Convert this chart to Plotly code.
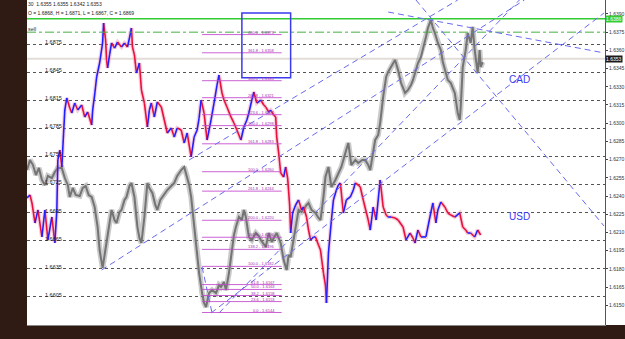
import plotly.graph_objects as go

# ---------------- data ----------------
# main symbol (CAD overlay, gray) : bar index and close price (right scale)
cad_bars = [0, 3, 6, 9, 12, 15, 18, 21, 25, 28,
            31, 35, 38, 41, 43, 46, 49, 53, 56, 59,
            62, 65, 68, 71, 73, 75, 76, 78, 80, 83,
            85, 88, 90, 93, 95, 98, 100, 103, 105, 108,
            111, 113, 115, 118, 121, 123, 126, 129, 131, 134,
            136, 139, 141, 145, 148, 151, 155, 158, 161, 163,
            165, 168, 171, 173, 176, 178, 180, 183, 186, 190,
            193, 195, 198, 200, 203, 206, 208, 210, 213, 216,
            218, 220, 223, 226, 230, 233, 235, 238, 240, 243,
            246, 248, 251, 255, 258, 261, 263, 265, 268, 270,
            273, 276, 278, 281, 283, 286, 290, 293, 295, 298,
            300, 303, 306, 310, 313, 316, 320, 323, 326, 330,
            333, 337, 340, 343, 345, 348, 350, 353, 355, 358,
            361, 363, 366, 370, 373, 376, 378, 380, 383, 386,
            388, 391, 393, 396, 398, 401, 403, 405, 406, 408,
            410, 413, 416, 418, 420, 423, 426, 428, 430, 433,
            435, 436, 438, 441, 443, 446, 448, 450, 453, 455,
            456, 458]
cad_close = [1.62614, 1.62697, 1.62655, 1.62573, 1.62631, 1.62532, 1.62491, 1.62565, 1.62548, 1.62598,
             1.62631, 1.62631, 1.62548, 1.62491, 1.62392, 1.62466, 1.62408, 1.62400, 1.62466, 1.62482,
             1.62408, 1.62392, 1.62309, 1.62144, 1.61955, 1.61856, 1.61807, 1.61914, 1.62013, 1.62161,
             1.62285, 1.62202, 1.62177, 1.62268, 1.62285, 1.62367, 1.62392, 1.62482, 1.62507, 1.62392,
             1.62144, 1.62054, 1.62013, 1.62227, 1.62507, 1.62466, 1.62425, 1.62326, 1.62285, 1.62367,
             1.62392, 1.62433, 1.62449, 1.62482, 1.62507, 1.62565, 1.62614, 1.62639, 1.62557, 1.62491,
             1.62392, 1.62144, 1.61897, 1.61765, 1.61600, 1.61518, 1.61485, 1.61600, 1.61625, 1.61600,
             1.61666, 1.61650, 1.61691, 1.61625, 1.61765, 1.61980, 1.62078, 1.62144, 1.62227, 1.62202,
             1.62285, 1.62227, 1.62062, 1.62037, 1.62095, 1.62070, 1.62037, 1.62004, 1.61980, 1.62095,
             1.62021, 1.62054, 1.62095, 1.62013, 1.61872, 1.61790, 1.61914, 1.61897, 1.62037, 1.62161,
             1.62285, 1.62268, 1.62285, 1.62326, 1.62342, 1.62285, 1.62260, 1.62219, 1.62202, 1.62392,
             1.62557, 1.62639, 1.62474, 1.62532, 1.62590, 1.62639, 1.62754, 1.62837, 1.62655, 1.62697,
             1.62672, 1.62697, 1.62697, 1.62655, 1.62614, 1.62754, 1.62862, 1.62903, 1.63002, 1.63216,
             1.63381, 1.63422, 1.63463, 1.63521, 1.63438, 1.63331, 1.63290, 1.63249, 1.63274, 1.63315,
             1.63356, 1.63438, 1.63496, 1.63546, 1.63603, 1.63710, 1.63785, 1.63826, 1.63851, 1.63785,
             1.63743, 1.63661, 1.63603, 1.63504, 1.63438, 1.63356, 1.63331, 1.63290, 1.63249, 1.63084,
             1.63026, 1.63134, 1.63463, 1.63603, 1.63743, 1.63661, 1.63793, 1.63603, 1.63414, 1.63603,
             1.63463, 1.63504]

# overlay symbol (USD, red/blue) : bar index and close price (left scale)
usd_bars = [0, 3, 5, 8, 11, 15, 18, 21, 25, 28,
            30, 31, 33, 35, 38, 40, 43, 45, 48, 51,
            55, 58, 61, 65, 66, 68, 70, 73, 76, 77,
            79, 80, 81, 83, 85, 88, 91, 95, 98, 101,
            103, 105, 106, 108, 110, 113, 115, 118, 121, 123,
            125, 128, 131, 135, 138, 141, 145, 148, 151, 155,
            158, 161, 165, 168, 171, 173, 175, 178, 181, 185,
            188, 191, 193, 196, 198, 201, 205, 208, 211, 215,
            218, 221, 223, 226, 228, 231, 235, 238, 240, 243,
            245, 248, 250, 251, 253, 255, 258, 260, 262, 264,
            265, 267, 270, 273, 276, 278, 281, 283, 285, 288,
            290, 293, 295, 298, 300, 301, 303, 306, 308, 311,
            313, 315, 318, 321, 325, 328, 330, 333, 335, 338,
            341, 343, 345, 348, 351, 353, 355, 358, 361, 363,
            366, 370, 373, 378, 381, 385, 388, 390, 393, 396,
            401, 405, 408, 411, 413, 416, 420, 423, 426, 430,
            435, 438, 441, 443, 446, 450, 453, 456]
usd_close = [1.67106, 1.67138, 1.67053, 1.66839, 1.66978, 1.66690, 1.66978, 1.66658, 1.66903, 1.66626,
             1.66978, 1.67512, 1.67618, 1.67437, 1.68045, 1.68174, 1.68067, 1.68013, 1.68120, 1.68045,
             1.68099, 1.67971, 1.68024, 1.67885, 1.68045, 1.68206, 1.68398, 1.68547, 1.68761, 1.68974,
             1.68793, 1.68579, 1.68494, 1.68633, 1.68761, 1.68707, 1.68771, 1.68718, 1.68761, 1.68718,
             1.68814, 1.68921, 1.68718, 1.68633, 1.68440, 1.68547, 1.68259, 1.68120, 1.67864, 1.68045,
             1.68120, 1.67971, 1.68131, 1.68077, 1.67939, 1.67800, 1.67853, 1.67757, 1.67853, 1.67832,
             1.67693, 1.67800, 1.67544, 1.67757, 1.67832, 1.67960, 1.68152, 1.68013, 1.67725, 1.67939,
             1.68120, 1.68312, 1.68419, 1.68227, 1.68152, 1.68077, 1.67971, 1.67907, 1.67832, 1.67725,
             1.67864, 1.67939, 1.68013, 1.68152, 1.68238, 1.68120, 1.68152, 1.68099, 1.68077, 1.68024,
             1.68045, 1.67992, 1.67971, 1.67757, 1.67586, 1.67373, 1.67330, 1.67437, 1.67319, 1.67031,
             1.66732, 1.66946, 1.67031, 1.67085, 1.66978, 1.67010, 1.66903, 1.66764, 1.66658, 1.66690,
             1.66690, 1.66604, 1.66551, 1.66305, 1.66177, 1.65985, 1.66519, 1.66871, 1.67085, 1.67191,
             1.67245, 1.67266, 1.66946, 1.67085, 1.67117, 1.67191, 1.67266, 1.67245, 1.67223, 1.67085,
             1.66956, 1.66871, 1.66764, 1.67010, 1.66871, 1.67085, 1.67298, 1.67010, 1.66924, 1.66903,
             1.66903, 1.66892, 1.66871, 1.66796, 1.66658, 1.66732, 1.66679, 1.66626, 1.66764, 1.66690,
             1.66690, 1.66903, 1.67053, 1.66839, 1.66978, 1.67063, 1.67010, 1.66946, 1.66924, 1.66903,
             1.66946, 1.66796, 1.66764, 1.66732, 1.66732, 1.66690, 1.66764, 1.66711]

# axis ticks
cad_ticks = [1.6150, 1.6165, 1.6180, 1.6195, 1.6210, 1.6225, 1.6240, 1.6255, 1.6270,
             1.6285, 1.6300, 1.6315, 1.6330, 1.6345, 1.6360, 1.6375, 1.6390]
usd_ticks = [1.6605, 1.6635, 1.6665, 1.6695, 1.6725, 1.6755, 1.6785, 1.6815, 1.6845, 1.6875]

# header texts
header_main = "30  1.6355 1.6355 1.6342 1.6353"
header_overlay = "O = 1.6868, H = 1.6871, L = 1.6867, C = 1.6869"

# horizontal price levels
level_green = 1.6386
level_sell = 1.6375
level_last = 1.6353

# fibonacci expansions (level %, price)
fib_a_levels = [100.0, 161.8, 200.0, 223.6, 261.8, 300.0, 361.8, 400.0]
fib_a_prices = [1.6260, 1.6283, 1.6298, 1.6307, 1.6321, 1.6335, 1.6358, 1.6373]
fib_b_levels = [0.0, 23.6, 38.2, 50.0, 61.8, 100.0, 138.2, 161.8, 200.0, 261.8]
fib_b_prices = [1.6144, 1.6153, 1.6158, 1.6163, 1.6167, 1.6182, 1.6196, 1.6206, 1.6220, 1.6244]
fib_bar_start = 176
fib_bar_end = 252

# trend lines (bar, price) -> (bar, price)
trend_x0 = [75, 163, 185, 193, 363, 391, 176]
trend_p0 = [1.61790, 1.62697, 1.61436, 1.61436, 1.63916, 1.64015, 1.61815]
trend_x1 = [500, 433, 580, 495, 580, 580, 186]
trend_p1 = [1.64015, 1.64015, 1.63908, 1.64015, 1.63579, 1.62153, 1.61436]

# rectangle (bar range, price range)
rect_bars = [216, 265]
rect_prices = [1.63374, 1.63908]

# ---------------- figure ----------------
FONT = "Liberation Sans"
fig = go.Figure()

fig.add_trace(go.Scatter(x=cad_bars, y=cad_close, mode="lines", yaxis="y",
                         line=dict(color="rgba(140,140,140,0.45)", width=5.5),
                         hoverinfo="skip", showlegend=False))
fig.add_trace(go.Scatter(x=cad_bars, y=cad_close, mode="lines", yaxis="y",
                         line=dict(color="#747474", width=2),
                         hoverinfo="skip", showlegend=False))

fig.add_trace(go.Scatter(x=usd_bars, y=usd_close, mode="lines", yaxis="y2",
                         line=dict(color="rgba(235,120,160,0.35)", width=4),
                         hoverinfo="skip", showlegend=False))
up_x, up_y, dn_x, dn_y = [], [], [], []
for i in range(len(usd_bars) - 1):
    sx = [usd_bars[i], usd_bars[i + 1], None]
    sy = [usd_close[i], usd_close[i + 1], None]
    if usd_close[i + 1] >= usd_close[i]:
        up_x += sx; up_y += sy
    else:
        dn_x += sx; dn_y += sy
fig.add_trace(go.Scatter(x=dn_x, y=dn_y, mode="lines", yaxis="y2",
                         line=dict(color="#e8103c", width=1.6),
                         hoverinfo="skip", showlegend=False))
fig.add_trace(go.Scatter(x=up_x, y=up_y, mode="lines", yaxis="y2",
                         line=dict(color="#2020ff", width=1.6),
                         hoverinfo="skip", showlegend=False))

shapes = []
# white strip behind right price scale
shapes.append(dict(type="rect", xref="paper", yref="paper", x0=1, x1=1.05, y0=0, y1=1,
                   fillcolor="white", line=dict(width=0), layer="below"))
# last price line
shapes.append(dict(type="line", xref="x", yref="y", x0=0, x1=581, y0=level_last, y1=level_last,
                   line=dict(color="#e2ddd6", width=2), layer="below"))
# green levels
shapes.append(dict(type="line", xref="x", yref="y", x0=0, x1=581, y0=level_green, y1=level_green,
                   line=dict(color="#33cc33", width=1.5), layer="above"))
shapes.append(dict(type="line", xref="x", yref="y", x0=0, x1=581, y0=level_sell, y1=level_sell,
                   line=dict(color="#44b044", width=1, dash="dashdot"), layer="above"))
# fib lines
for p in fib_a_prices + fib_b_prices:
    shapes.append(dict(type="line", xref="x", yref="y", x0=fib_bar_start, x1=fib_bar_end + 4,
                       y0=p, y1=p, line=dict(color="rgba(195,70,205,0.85)", width=1), layer="above"))
# trend lines
for x0, p0, x1, p1 in zip(trend_x0, trend_p0, trend_x1, trend_p1):
    shapes.append(dict(type="line", xref="x", yref="y", x0=x0, y0=p0, x1=x1, y1=p1,
                       line=dict(color="#6a6af0", width=1, dash="6px,4px"), layer="above"))
# rectangle
shapes.append(dict(type="rect", xref="x", yref="y", x0=rect_bars[0], x1=rect_bars[1],
                   y0=rect_prices[0], y1=rect_prices[1],
                   line=dict(color="#3a3aee", width=1.5), fillcolor="rgba(0,0,0,0)", layer="above"))

annotations = []
annotations.append(dict(xref="paper", yref="paper", x=0, y=1, xanchor="left", yanchor="top",
                        text=header_main, showarrow=False, yshift=0, borderpad=0,
                        font=dict(size=5, color="#222", family=FONT)))
annotations.append(dict(xref="paper", yref="paper", x=0, y=1, xanchor="left", yanchor="top",
                        text=header_overlay, showarrow=False, yshift=-9, borderpad=0,
                        font=dict(size=5, color="#222", family=FONT)))
annotations.append(dict(xref="x", yref="y", x=0, y=level_sell, xanchor="left", yanchor="bottom",
                        text="sell", showarrow=False, yshift=-1, borderpad=0,
                        font=dict(size=5.5, color="#333", family=FONT)))
for lv, p in list(zip(fib_a_levels, fib_a_prices)) + list(zip(fib_b_levels, fib_b_prices)):
    annotations.append(dict(xref="x", yref="y", x=fib_bar_end - 2, y=p, xanchor="right",
                            yanchor="bottom", yshift=-1, showarrow=False, borderpad=0,
                            text=f"{lv:.1f} - {p:.4f}",
                            font=dict(size=4, color="#a030b0", family=FONT)))
annotations.append(dict(xref="x", yref="y", x=495, y=1.63356, text="CAD", showarrow=False,
                        font=dict(size=10, color="#3a3af0", family=FONT)))
annotations.append(dict(xref="x", yref="y", x=495, y=1.62235, text="USD", showarrow=False,
                        font=dict(size=10, color="#3a3af0", family=FONT)))
annotations.append(dict(xref="paper", yref="y", x=1, y=level_green, xanchor="left",
                        text=f"{level_green:.4f}", showarrow=False, bgcolor="#33cc33",
                        borderpad=0, font=dict(size=5, color="white", family=FONT)))
annotations.append(dict(xref="paper", yref="y", x=1, y=level_last, xanchor="left",
                        text=f"{level_last:.4f}", showarrow=False, bgcolor="#1a1a1a",
                        borderpad=0, font=dict(size=5, color="white", family=FONT)))

fig.update_layout(
    width=625, height=339,
    margin=dict(l=27, r=17, t=0, b=14),
    paper_bgcolor="#2f1b14", plot_bgcolor="white",
    showlegend=False,
    shapes=shapes, annotations=annotations,
    xaxis=dict(range=[0, 581], showgrid=False, zeroline=False, showticklabels=False,
               showline=True, linecolor="#888", ticks=""),
    yaxis=dict(range=[1.61337, 1.64015], side="right", tickvals=cad_ticks,
               ticktext=[f"{v:.4f}" for v in cad_ticks], showgrid=False, zeroline=False,
               ticks="outside", ticklen=2, tickcolor="#444", showline=True, linecolor="#555",
               tickfont=dict(size=5, color="#333", family=FONT)),
    yaxis2=dict(range=[1.65750, 1.69220], overlaying="y", side="left", tickvals=usd_ticks,
                ticktext=[f"{v:.4f}" for v in usd_ticks], showgrid=True, gridcolor="#555",
                griddash="dot", gridwidth=1, zeroline=False, showline=False, ticks="",
                ticklabelposition="inside", ticklabelstandoff=15, ticklabelshift=-2,
                tickfont=dict(size=5.5, color="#222", family=FONT)),
)

fig.write_html("out.html")
